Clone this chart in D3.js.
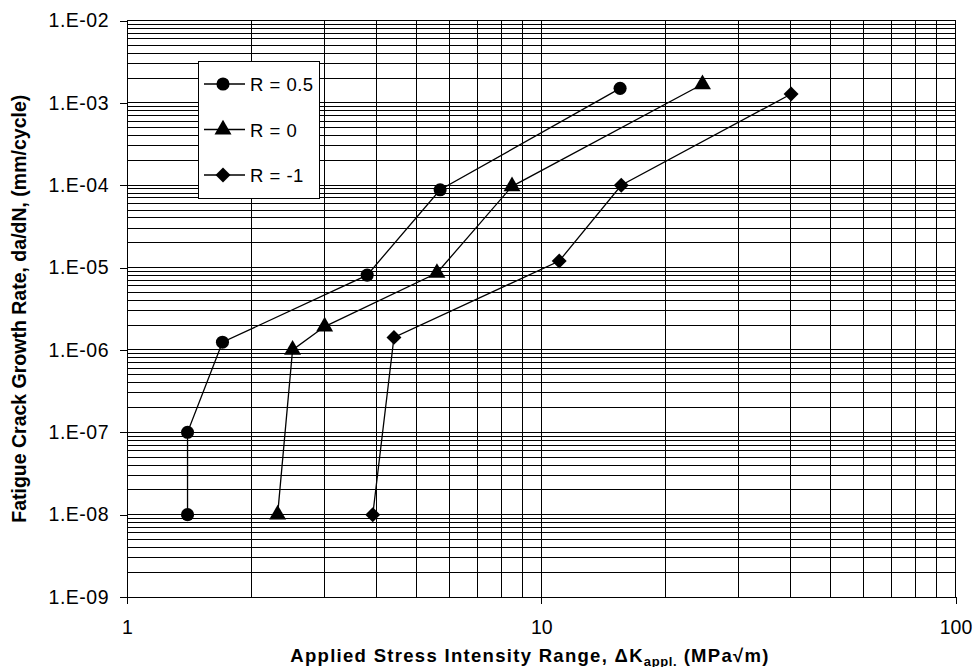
<!DOCTYPE html>
<html>
<head>
<meta charset="utf-8">
<script src="https://cdn.jsdelivr.net/npm/d3@7"></script>
<style>
  html, body { margin: 0; padding: 0; background: #fff; }
  svg { display: block; font-family: "Liberation Sans", Arial, sans-serif; }
</style>
</head>
<body>
<svg id="chart" width="975" height="667"></svg>
<script>
// Fatigue crack growth rate vs. applied stress intensity range, three stress ratios
const seriesNames = ["R = 0.5", "R = 0", "R = -1"];
const seriesSymbols = ["circle", "triangle", "diamond"];

const dK_R05   = [1.4, 1.4, 1.7, 3.8, 5.7, 15.5];
const rate_R05 = [1e-8, 1e-7, 1.24e-6, 8.1e-6, 8.8e-5, 1.5e-3];

const dK_R0    = [2.31, 2.51, 3.0, 5.6, 8.5, 24.5];
const rate_R0  = [1e-8, 1e-6, 1.92e-6, 8.6e-6, 9.7e-5, 1.68e-3];

const dK_Rm1   = [3.92, 4.41, 11.05, 15.6, 40.1];
const rate_Rm1 = [1e-8, 1.42e-6, 1.2e-5, 1e-4, 1.28e-3];

const xTickValues = [1, 10, 100];
const xTickLabels = ["1", "10", "100"];
const yTickValues = [1e-9, 1e-8, 1e-7, 1e-6, 1e-5, 1e-4, 1e-3, 1e-2];
const yTickLabels = ["1.E-09", "1.E-08", "1.E-07", "1.E-06", "1.E-05", "1.E-04", "1.E-03", "1.E-02"];

const yTitle = "Fatigue Crack Growth Rate, da/dN, (mm/cycle)";
const xTitleMain = "Applied Stress Intensity Range, \u0394K";
const xTitleSub = "appl.";
const xTitleEnd = " (MPa\u221Am)";

const series = [
  { name: seriesNames[0], symbol: seriesSymbols[0], pts: dK_R05.map((d, i) => ({ x: d, y: rate_R05[i] })) },
  { name: seriesNames[1], symbol: seriesSymbols[1], pts: dK_R0.map((d, i) => ({ x: d, y: rate_R0[i] })) },
  { name: seriesNames[2], symbol: seriesSymbols[2], pts: dK_Rm1.map((d, i) => ({ x: d, y: rate_Rm1[i] })) }
];

const svg = d3.select("#chart");
const plotL = 127, plotR = 955.5, plotT = 20.5, plotB = 597;

const x = d3.scaleLog().domain([1, 100]).range([plotL, plotR]);
const y = d3.scaleLog().domain([1e-9, 1e-2]).range([plotB, plotT]);

// log grid: every 1..9 multiple within each decade
function logGridValues(lo, hi) {
  const v = [];
  for (let e = Math.round(Math.log10(lo)); e < Math.round(Math.log10(hi)); e++) {
    for (let m = 1; m <= 9; m++) v.push(m * Math.pow(10, e));
  }
  v.push(hi);
  return v;
}

const grid = svg.append("g").attr("shape-rendering", "crispEdges")
  .attr("stroke", "#000").attr("stroke-width", 1);

grid.selectAll("line.h").data(logGridValues(1e-9, 1e-2)).join("line")
  .attr("class", "h")
  .attr("x1", plotL).attr("x2", plotR)
  .attr("y1", d => y(d)).attr("y2", d => y(d));

grid.selectAll("line.v").data(logGridValues(1, 100)).join("line")
  .attr("class", "v")
  .attr("y1", plotT).attr("y2", plotB)
  .attr("x1", d => x(d)).attr("x2", d => x(d));

// axes
const yAxis = d3.axisLeft(y).tickValues(yTickValues)
  .tickFormat((d, i) => yTickLabels[i]).tickSize(7).tickPadding(11);
const gy = svg.append("g").attr("transform", `translate(${plotL},0)`).call(yAxis);
gy.select(".domain").attr("stroke", "#000").attr("shape-rendering", "crispEdges");
gy.selectAll(".tick line").attr("stroke", "#000").attr("shape-rendering", "crispEdges");
gy.selectAll(".tick text").attr("font-size", 19.5).attr("fill", "#000")
  .attr("font-family", "Liberation Sans, Arial, sans-serif").attr("letter-spacing", 0.5);

const xAxis = d3.axisBottom(x).tickValues(xTickValues)
  .tickFormat((d, i) => xTickLabels[i]).tickSize(7).tickPadding(16);
const gx = svg.append("g").attr("transform", `translate(0,${plotB})`).call(xAxis);
gx.select(".domain").attr("stroke", "#000").attr("shape-rendering", "crispEdges");
gx.selectAll(".tick line").attr("stroke", "#000").attr("shape-rendering", "crispEdges");
gx.selectAll(".tick text").attr("font-size", 19.5).attr("fill", "#000")
  .attr("font-family", "Liberation Sans, Arial, sans-serif");

// axis titles
svg.append("text")
  .attr("transform", `translate(26,${(plotT + plotB) / 2}) rotate(-90)`)
  .attr("text-anchor", "middle")
  .attr("font-size", 19.5).attr("font-weight", "bold")
  .text(yTitle);

const xt = svg.append("text")
  .attr("x", 530).attr("y", 661.5)
  .attr("text-anchor", "middle")
  .attr("font-size", 18.5).attr("font-weight", "bold").attr("letter-spacing", 1.3);
xt.append("tspan").text(xTitleMain);
xt.append("tspan").attr("font-size", 13).attr("letter-spacing", 0.6).attr("dy", 4).text(xTitleSub);
xt.append("tspan").attr("dy", -4).text(xTitleEnd);

// markers
const symbolTypes = { circle: d3.symbolCircle, triangle: d3.symbolTriangle, diamond: d3.symbolSquare };
const symbolSizes = { circle: 135, triangle: 125, diamond: 112 };
const symbolRotate = { circle: 0, triangle: 0, diamond: 45 };
function symbolPath(s) { return d3.symbol().type(symbolTypes[s]).size(symbolSizes[s])(); }

const line = d3.line().x(d => x(d.x)).y(d => y(d.y));
const plot = svg.append("g");
series.forEach(s => {
  plot.append("path").datum(s.pts)
    .attr("d", line).attr("fill", "none").attr("stroke", "#000").attr("stroke-width", 1.3);
  plot.selectAll(null).data(s.pts).join("path")
    .attr("d", symbolPath(s.symbol))
    .attr("transform", d => `translate(${x(d.x)},${y(d.y)}) rotate(${symbolRotate[s.symbol]})`)
    .attr("fill", "#000");
});

// legend
const lg = svg.append("g").attr("transform", "translate(198,61)");
lg.append("rect").attr("width", 121).attr("height", 137)
  .attr("fill", "#fff").attr("stroke", "#000").attr("shape-rendering", "crispEdges");
series.forEach((s, i) => {
  const cy = 23 + i * 45.5;
  lg.append("line").attr("x1", 6).attr("x2", 47).attr("y1", cy).attr("y2", cy)
    .attr("stroke", "#000").attr("stroke-width", 1.3);
  lg.append("path").attr("d", symbolPath(s.symbol))
    .attr("transform", `translate(25,${cy}) rotate(${symbolRotate[s.symbol]})`).attr("fill", "#000");
  lg.append("text").attr("x", 52).attr("y", cy + 7)
    .attr("font-size", 18.5).attr("letter-spacing", 0.5).text(s.name);
});
</script>
</body>
</html>
